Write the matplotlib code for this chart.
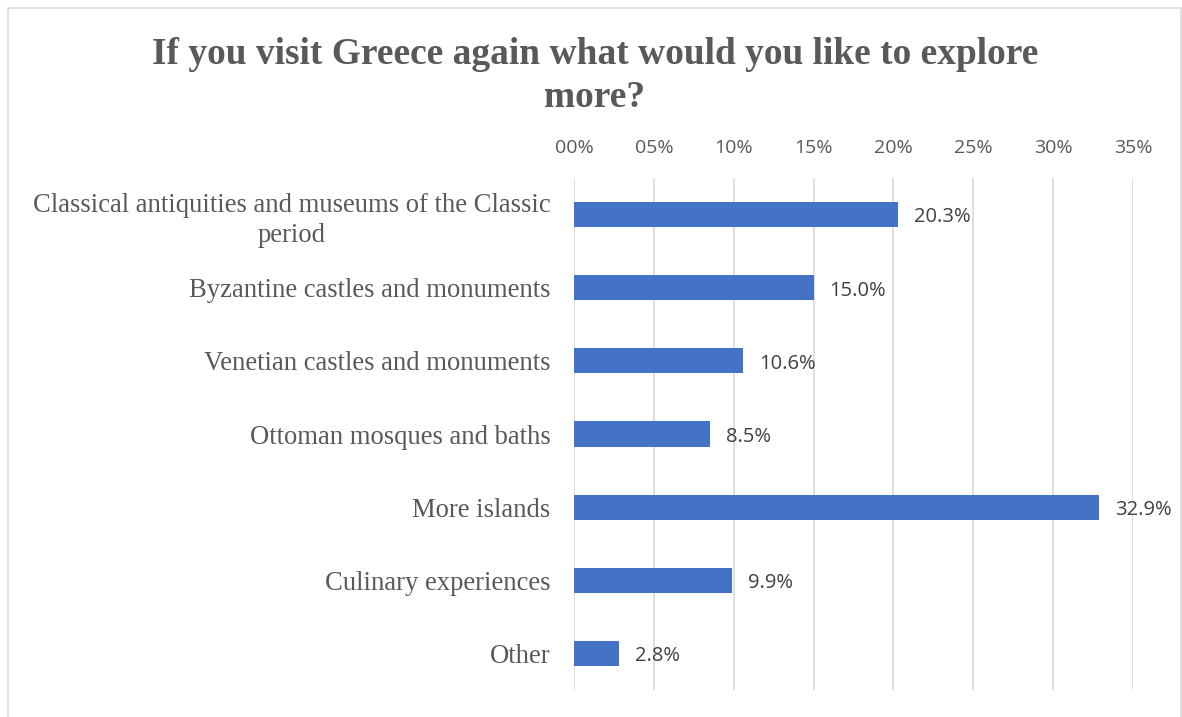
import matplotlib.pyplot as plt
from matplotlib.patches import Rectangle
from matplotlib.ticker import FuncFormatter

# survey answers, top to bottom
categories = [
    "Classical antiquities and museums of the Classic\nperiod",
    "Byzantine castles and monuments",
    "Venetian castles and monuments",
    "Ottoman mosques and baths",
    "More islands",
    "Culinary experiences",
    "Other",
]
shares = [20.3, 15.0, 10.6, 8.5, 32.9, 9.9, 2.8]
ticks = [0, 5, 10, 15, 20, 25, 30, 35]

W, H = 1182, 717
fig = plt.figure(figsize=(W / 100, H / 100), dpi=100)

# chart frame
fig.patches.append(Rectangle((8 / W, -0.01), (W - 9) / W, 1.01 - 8 / H,
                             transform=fig.transFigure, fill=False,
                             edgecolor="#d9d9d9", linewidth=1.2))

# plot area in pixel terms
x0, x1 = 574, 1133
y_top, y_bot = 178, 690
ax = fig.add_axes([x0 / W, 1 - y_bot / H, (x1 - x0) / W, (y_bot - y_top) / H])

pos = list(range(len(categories)))
ax.barh(pos, shares, height=0.345, color="#4472c4", zorder=3)
ax.set_ylim(len(categories) - 0.5, -0.5)
ax.set_xlim(0, 35)

for p, v in zip(pos, shares):
    ax.text(v + 1.0, p + 0.04, f"{v:.1f}%", va="center", ha="left",
            fontsize=14.5, family="Open Sans", color="#404040")

ax.xaxis.tick_top()
ax.set_xticks(ticks)
ax.xaxis.set_major_formatter(FuncFormatter(lambda v, _: f"{int(v):02d}%"))
ax.tick_params(axis="x", length=0, pad=15, labelsize=14, labelcolor="#595959")
for lab in ax.get_xticklabels():
    lab.set_family("Open Sans")

ax.set_yticks(pos)
ax.set_yticklabels(categories, family="Liberation Serif", fontsize=19.2,
                   color="#595959", linespacing=1.3)
ax.tick_params(axis="y", length=0, pad=17)
for lab in ax.get_yticklabels():
    lab.set_multialignment("center")

ax.grid(axis="x", color="#d9d9d9", linewidth=1.2, zorder=0)
for s in ax.spines.values():
    s.set_visible(False)

fig.text(595 / W, 1 - 76 / H, "If you visit Greece again what would you like to explore\nmore?",
         ha="center", va="center", family="Liberation Serif", fontweight="bold",
         fontsize=26.9, color="#595959", linespacing=1.3)

fig.savefig("out.png", dpi=100)
